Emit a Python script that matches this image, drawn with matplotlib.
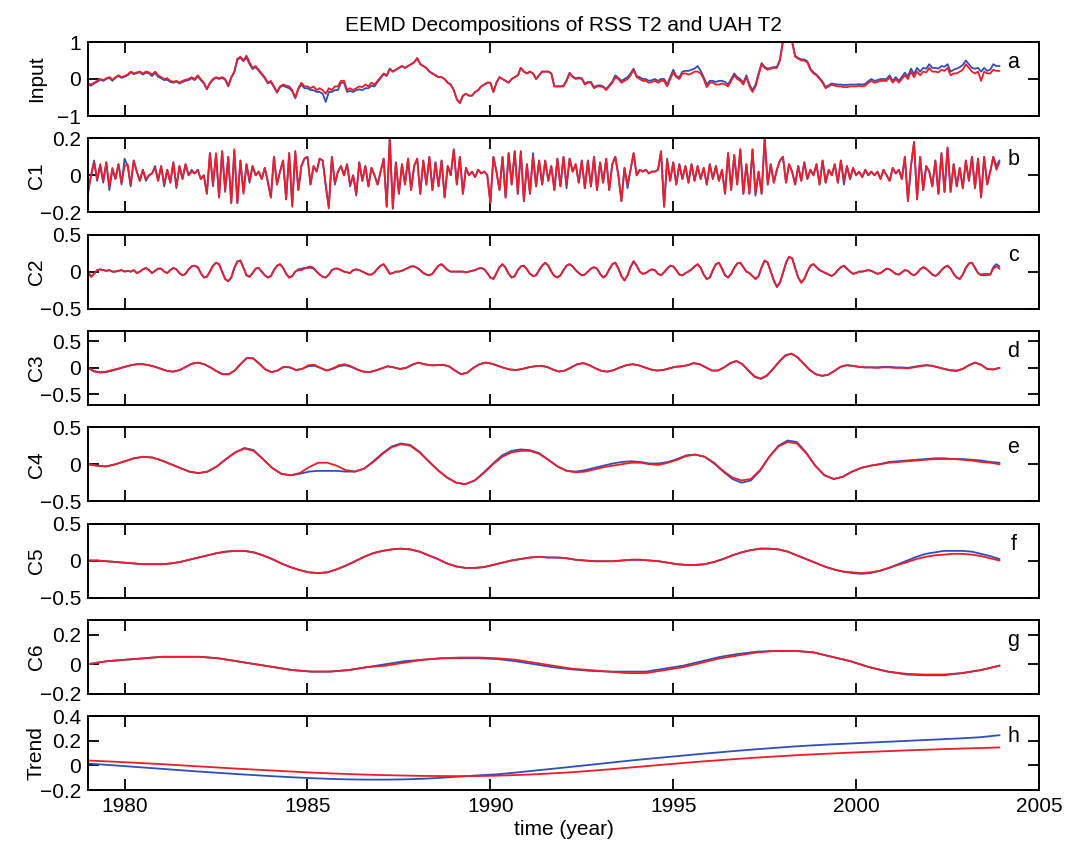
import numpy as np
import matplotlib
matplotlib.use('Agg')
import matplotlib.pyplot as plt

plt.rcParams['font.family'] = ['Liberation Sans', 'DejaVu Sans']

# ---------------- data ----------------
input_rss = [
 -0.12, -0.15, -0.10, -0.05, 0.00, -0.03, 0.02, 0.05, -0.02, 0.05, 0.10, 0.05,
 0.08, 0.12, 0.20, 0.15, 0.18, 0.20, 0.15, 0.20, 0.18, 0.12, 0.20, 0.10,
 0.05, 0.00, 0.02, -0.05, -0.08, -0.05, -0.10, -0.05, -0.02, 0.00, 0.05, 0.00,
 0.10, 0.00, -0.10, -0.27, -0.10, 0.00, 0.05, 0.02, 0.05, 0.00, -0.18, 0.05,
 0.20, 0.55, 0.60, 0.50, 0.63, 0.45, 0.30, 0.35, 0.25, 0.15, 0.05, -0.10,
 -0.05, -0.20, -0.35, -0.20, -0.15, -0.18, -0.20, -0.30, -0.50, -0.25, -0.10, -0.20,
 -0.20, -0.25, -0.20, -0.30, -0.25, -0.30, -0.40, -0.25, -0.30, -0.20, -0.20, -0.05,
 -0.05, -0.30, -0.25, -0.30, -0.25, -0.20, -0.22, -0.15, -0.20, -0.10, -0.15, -0.05,
 0.05, 0.15, 0.10, 0.28, 0.20, 0.25, 0.30, 0.35, 0.30, 0.35, 0.40, 0.45,
 0.57, 0.40, 0.35, 0.30, 0.20, 0.15, 0.10, 0.05, 0.05, 0.00, -0.10, -0.15,
 -0.30, -0.55, -0.65, -0.45, -0.40, -0.45, -0.45, -0.35, -0.30, -0.20, -0.15, -0.10,
 -0.10, -0.35, -0.10, 0.05, 0.00, -0.05, -0.10, 0.00, 0.05, 0.10, 0.30, 0.20,
 0.15, 0.20, 0.15, 0.00, 0.10, 0.20, 0.20, 0.20, 0.15, -0.20, -0.20, -0.20,
 -0.20, -0.05, 0.15, 0.05, 0.00, 0.02, 0.00, -0.15, -0.10, -0.10, -0.25, -0.20,
 -0.20, -0.22, -0.30, -0.20, -0.10, 0.05, 0.00, -0.10, -0.05, 0.00, 0.10, 0.25,
 0.05, 0.00, -0.05, -0.05, -0.10, -0.08, -0.05, -0.10, -0.05, -0.05, -0.20, 0.00,
 0.18, 0.05, 0.00, 0.15, 0.15, 0.12, 0.15, 0.20, 0.20, 0.15, 0.00, -0.22,
 -0.10, -0.10, -0.15, -0.15, -0.12, -0.15, -0.20, -0.05, 0.10, 0.00, -0.05, -0.15,
 0.05, -0.20, -0.35, -0.20, 0.10, 0.40, 0.30, 0.25, 0.28, 0.30, 0.30, 0.50,
 1.00, 1.10, 1.05, 1.00, 0.60, 0.55, 0.50, 0.50, 0.45, 0.25, 0.15, 0.10,
 0.00, -0.10, -0.25, -0.20, -0.15, -0.18, -0.20, -0.20, -0.22, -0.22, -0.20, -0.20,
 -0.20, -0.18, -0.20, -0.18, -0.10, -0.05, -0.10, -0.08, -0.05, -0.05, -0.05, 0.05,
 -0.10, 0.00, -0.10, 0.00, 0.10, 0.00, 0.20, 0.05, 0.20, 0.10, 0.20, 0.18,
 0.30, 0.20, 0.20, 0.18, 0.25, 0.22, 0.30, 0.10, 0.15, 0.15, 0.20, 0.25,
 0.40, 0.30, 0.20, 0.15, 0.20, -0.05, 0.20, 0.15, 0.15, 0.25, 0.22, 0.22,
]
input_uah = [
 -0.15, -0.18, -0.12, -0.08, -0.02, -0.05, 0.00, 0.03, -0.05, 0.03, 0.08, 0.03,
 0.06, 0.10, 0.18, 0.13, 0.16, 0.18, 0.12, 0.17, 0.15, 0.08, 0.16, 0.06,
 0.02, -0.03, -0.02, -0.08, -0.10, -0.07, -0.12, -0.08, -0.05, -0.03, 0.02, -0.03,
 0.07, -0.03, -0.12, -0.28, -0.12, -0.02, 0.03, 0.00, 0.03, -0.02, -0.20, 0.03,
 0.18, 0.52, 0.57, 0.48, 0.58, 0.40, 0.27, 0.32, 0.22, 0.12, 0.02, -0.12,
 -0.08, -0.22, -0.37, -0.22, -0.18, -0.22, -0.25, -0.33, -0.52, -0.28, -0.15, -0.25,
 -0.25, -0.30, -0.30, -0.35, -0.35, -0.40, -0.62, -0.35, -0.35, -0.30, -0.30, -0.10,
 -0.10, -0.35, -0.32, -0.35, -0.30, -0.28, -0.30, -0.25, -0.25, -0.18, -0.20, -0.08,
 0.02, 0.13, 0.08, 0.27, 0.20, 0.25, 0.30, 0.35, 0.30, 0.35, 0.40, 0.45,
 0.55, 0.40, 0.35, 0.30, 0.20, 0.15, 0.10, 0.05, 0.05, 0.00, -0.10, -0.15,
 -0.30, -0.55, -0.65, -0.45, -0.40, -0.45, -0.45, -0.35, -0.30, -0.20, -0.15, -0.10,
 -0.10, -0.35, -0.10, 0.05, 0.00, -0.05, -0.10, 0.00, 0.05, 0.10, 0.30, 0.20,
 0.15, 0.20, 0.15, 0.00, 0.10, 0.20, 0.20, 0.20, 0.15, -0.20, -0.20, -0.20,
 -0.18, -0.03, 0.17, 0.07, 0.02, 0.04, 0.02, -0.12, -0.08, -0.08, -0.22, -0.18,
 -0.17, -0.20, -0.27, -0.17, -0.07, 0.10, 0.03, -0.05, 0.00, 0.05, 0.15, 0.28,
 0.08, 0.05, 0.00, 0.00, -0.05, -0.03, 0.00, -0.05, 0.00, 0.00, -0.15, 0.05,
 0.25, 0.08, 0.05, 0.20, 0.22, 0.22, 0.25, 0.28, 0.35, 0.22, 0.05, -0.15,
 -0.05, -0.05, -0.08, -0.05, -0.05, -0.08, -0.15, 0.00, 0.15, 0.05, 0.00, -0.10,
 0.10, -0.15, -0.30, -0.15, 0.15, 0.43, 0.33, 0.28, 0.30, 0.32, 0.33, 0.52,
 1.05, 1.12, 1.08, 1.02, 0.63, 0.57, 0.53, 0.53, 0.48, 0.28, 0.18, 0.12,
 0.03, -0.07, -0.22, -0.17, -0.12, -0.14, -0.15, -0.15, -0.16, -0.16, -0.15, -0.15,
 -0.15, -0.14, -0.15, -0.13, -0.06, 0.00, -0.05, -0.03, 0.00, 0.00, 0.00, 0.10,
 -0.05, 0.05, -0.05, 0.06, 0.17, 0.07, 0.28, 0.13, 0.30, 0.20, 0.30, 0.28,
 0.40, 0.30, 0.30, 0.28, 0.35, 0.33, 0.40, 0.20, 0.25, 0.28, 0.32, 0.38,
 0.50, 0.40, 0.30, 0.28, 0.30, 0.20, 0.30, 0.22, 0.25, 0.40, 0.35, 0.35,
]
c1_rss = [
 -0.10, 0.00, 0.07, -0.02, 0.06, -0.03, 0.07, -0.06, 0.04, -0.02, 0.06, -0.04,
 0.05, 0.06, -0.05, 0.08, 0.02, -0.03, 0.03, -0.02, 0.00, 0.01, 0.04, -0.03,
 0.05, -0.05, 0.03, -0.04, 0.07, -0.06, 0.05, -0.02, 0.06, 0.00, 0.02, 0.01,
 0.03, -0.02, 0.00, -0.10, 0.12, -0.05, 0.12, -0.12, 0.13, -0.08, 0.10, -0.15,
 0.14, -0.15, 0.08, -0.10, 0.06, -0.03, 0.05, 0.00, 0.02, -0.02, 0.04, -0.03,
 -0.12, 0.10, -0.05, 0.02, 0.08, -0.13, 0.12, -0.17, 0.13, -0.08, 0.05, 0.09,
 0.10, -0.05, 0.05, 0.02, 0.09, 0.08, -0.05, -0.18, 0.10, -0.04, 0.02, 0.05,
 0.00, 0.06, -0.05, 0.00, -0.10, 0.07, -0.03, 0.05, -0.06, 0.04, 0.00, -0.05,
 0.02, 0.09, -0.17, 0.20, -0.18, 0.07, -0.10, 0.06, -0.05, 0.09, -0.08, 0.05,
 0.09, -0.10, 0.08, -0.05, 0.10, -0.08, 0.07, -0.06, 0.08, -0.12, 0.05, 0.00,
 0.14, -0.05, 0.10, -0.10, 0.04, 0.00, 0.02, -0.01, 0.03, 0.01, 0.02, 0.00,
 -0.15, 0.10, 0.02, -0.08, 0.10, -0.12, 0.12, -0.05, 0.13, -0.10, 0.13, -0.14,
 0.06, -0.10, 0.10, -0.06, 0.08, -0.05, 0.08, -0.03, 0.05, -0.08, 0.09, -0.06,
 0.10, -0.05, 0.09, 0.02, 0.06, -0.04, 0.08, -0.07, 0.08, -0.06, 0.10, -0.08,
 0.07, -0.04, 0.09, -0.08, 0.06, 0.10, 0.00, -0.14, 0.04, -0.05, 0.03, 0.12,
 0.00, 0.03, 0.02, 0.03, 0.01, 0.02, 0.02, 0.03, 0.13, -0.17, 0.08, -0.03,
 0.07, -0.05, 0.06, -0.02, 0.05, -0.04, 0.06, -0.03, 0.05, -0.02, 0.04, -0.05,
 0.06, -0.02, 0.05, -0.03, 0.03, -0.10, 0.12, -0.08, 0.11, -0.05, 0.14, -0.10,
 0.06, -0.10, 0.14, -0.10, 0.02, -0.10, 0.20, -0.05, 0.06, -0.04, 0.03, 0.08,
 0.10, -0.04, 0.06, 0.02, -0.05, 0.05, -0.03, 0.07, -0.02, 0.03, 0.00, 0.06,
 -0.05, 0.08, -0.04, 0.03, 0.00, 0.06, -0.04, 0.08, -0.03, 0.05, -0.02, 0.04,
 0.00, 0.02, -0.01, 0.03, 0.00, 0.02, 0.00, 0.02, -0.02, 0.03, 0.00, -0.03,
 0.04, 0.01, 0.03, -0.02, 0.10, -0.14, 0.05, 0.18, -0.13, 0.10, -0.08, 0.05,
 0.02, -0.06, 0.08, -0.10, 0.12, -0.09, 0.15, -0.09, 0.06, -0.06, 0.04, -0.07,
 0.08, -0.03, 0.10, -0.07, 0.09, -0.12, 0.10, -0.05, 0.02, 0.10, 0.03, 0.07,
]
c1_uah = [
 -0.08, 0.00, 0.08, -0.03, 0.05, -0.04, 0.07, -0.08, 0.03, -0.02, 0.06, -0.05,
 0.09, 0.05, -0.06, 0.08, 0.02, -0.03, 0.03, -0.03, 0.00, 0.01, 0.05, -0.03,
 0.05, -0.06, 0.03, -0.04, 0.07, -0.07, 0.05, -0.02, 0.06, 0.00, 0.03, 0.01,
 0.03, -0.02, 0.00, -0.10, 0.12, -0.06, 0.11, -0.12, 0.13, -0.09, 0.10, -0.15,
 0.13, -0.15, 0.08, -0.09, 0.06, -0.04, 0.05, 0.00, 0.02, -0.02, 0.04, -0.04,
 -0.12, 0.10, -0.05, 0.02, 0.08, -0.13, 0.12, -0.16, 0.13, -0.08, 0.05, 0.09,
 0.10, -0.05, 0.05, 0.02, 0.09, 0.08, -0.06, -0.17, 0.10, -0.05, 0.02, 0.05,
 0.00, 0.06, -0.06, 0.00, -0.11, 0.07, -0.03, 0.05, -0.06, 0.04, 0.00, -0.05,
 0.02, 0.09, -0.17, 0.20, -0.18, 0.07, -0.10, 0.06, -0.05, 0.09, -0.08, 0.05,
 0.09, -0.10, 0.08, -0.05, 0.10, -0.08, 0.07, -0.06, 0.08, -0.12, 0.05, 0.00,
 0.14, -0.05, 0.10, -0.10, 0.04, 0.00, 0.02, -0.01, 0.03, 0.01, 0.02, 0.00,
 -0.15, 0.10, 0.02, -0.08, 0.10, -0.12, 0.12, -0.05, 0.13, -0.10, 0.13, -0.14,
 0.06, -0.10, 0.12, -0.06, 0.08, -0.05, 0.08, -0.03, 0.05, -0.08, 0.09, -0.06,
 0.10, -0.07, 0.09, 0.02, 0.06, -0.04, 0.08, -0.07, 0.08, -0.06, 0.10, -0.08,
 0.07, -0.04, 0.09, -0.08, 0.06, 0.10, 0.00, -0.14, 0.04, -0.07, 0.03, 0.12,
 0.00, 0.03, 0.02, 0.03, 0.01, 0.02, 0.02, 0.03, 0.13, -0.17, 0.09, -0.03,
 0.07, -0.05, 0.06, -0.02, 0.05, -0.04, 0.06, -0.03, 0.05, -0.02, 0.04, -0.05,
 0.06, -0.02, 0.05, -0.03, 0.03, -0.10, 0.12, -0.08, 0.11, -0.05, 0.14, -0.10,
 0.06, -0.10, 0.14, -0.11, 0.02, -0.10, 0.20, -0.05, 0.06, -0.04, 0.03, 0.08,
 0.10, -0.04, 0.06, 0.02, -0.05, 0.05, -0.03, 0.07, -0.02, 0.03, 0.00, 0.06,
 -0.05, 0.08, -0.04, 0.03, 0.00, 0.06, -0.04, 0.08, -0.05, 0.05, -0.02, 0.04,
 0.00, 0.02, -0.01, 0.03, 0.00, 0.02, 0.00, 0.02, -0.02, 0.03, 0.00, -0.03,
 0.04, 0.01, 0.03, -0.02, 0.10, -0.14, 0.05, 0.18, -0.13, 0.10, -0.08, 0.05,
 0.02, -0.06, 0.08, -0.10, 0.12, -0.09, 0.15, -0.09, 0.06, -0.06, 0.04, -0.07,
 0.08, -0.03, 0.10, -0.07, 0.09, -0.12, 0.10, -0.05, 0.02, 0.10, 0.05, 0.08,
]
c2_rss = [
 0.00, -0.07, -0.03, 0.02, 0.03, 0.02, 0.01, 0.02, 0.00, 0.00, 0.01, 0.02,
 0.00, 0.01, 0.00, 0.02, -0.02, 0.00, 0.03, 0.05, 0.02, -0.02, 0.01, 0.04,
 0.04, 0.00, -0.02, 0.02, 0.05, 0.03, -0.02, -0.05, -0.03, 0.03, 0.07, 0.08,
 0.06, -0.02, -0.08, -0.07, 0.00, 0.08, 0.12, 0.10, 0.00, -0.10, -0.13, -0.08,
 0.05, 0.13, 0.15, 0.05, -0.05, -0.07, -0.02, 0.04, 0.05, 0.00, -0.05, -0.08,
 -0.06, 0.02, 0.08, 0.10, 0.05, -0.03, -0.08, -0.06, 0.00, 0.02, 0.02, 0.04,
 0.06, 0.07, 0.05, 0.00, -0.04, -0.07, -0.08, -0.04, 0.02, 0.04, 0.04, 0.02,
 0.00, -0.01, -0.02, 0.02, 0.03, 0.02, 0.00, -0.02, -0.04, -0.04, -0.01, 0.04,
 0.08, 0.10, 0.04, -0.03, -0.02, 0.00, 0.00, 0.01, 0.03, 0.05, 0.07, 0.07,
 0.05, 0.02, -0.02, -0.04, -0.05, -0.03, 0.03, 0.08, 0.10, 0.06, 0.02, 0.00,
 0.00, 0.00, 0.00, 0.00, -0.01, 0.00, 0.01, 0.02, 0.04, 0.05, 0.03, -0.02,
 -0.08, -0.10, -0.02, 0.06, 0.10, 0.05, -0.03, -0.08, -0.06, 0.02, 0.07, 0.08,
 0.03, -0.03, -0.06, -0.05, 0.02, 0.08, 0.12, 0.08, 0.00, -0.06, -0.08, -0.05,
 0.02, 0.08, 0.10, 0.07, 0.02, -0.02, -0.05, -0.04, 0.00, 0.04, 0.06, 0.04,
 -0.03, -0.08, -0.05, 0.03, 0.10, 0.12, 0.04, -0.06, -0.12, -0.05, 0.06, 0.14,
 0.08, 0.00, -0.03, -0.02, 0.01, 0.03, 0.02, -0.03, -0.05, -0.01, 0.04, 0.08,
 0.07, 0.02, -0.04, -0.05, -0.02, 0.00, 0.03, 0.07, 0.10, 0.05, -0.04, -0.10,
 -0.08, 0.02, 0.10, 0.12, 0.04, -0.05, -0.08, -0.03, 0.05, 0.11, 0.12, 0.06,
 0.00, -0.02, -0.06, -0.10, -0.06, 0.06, 0.15, 0.12, 0.00, -0.12, -0.20, -0.15,
 -0.02, 0.12, 0.20, 0.18, 0.05, -0.08, -0.15, -0.10, 0.00, 0.08, 0.10, 0.06,
 0.02, 0.00, -0.02, -0.04, -0.06, -0.03, 0.02, 0.06, 0.08, 0.04, 0.00, -0.03,
 -0.02, 0.00, 0.00, 0.01, 0.02, 0.01, -0.01, -0.03, -0.02, 0.01, 0.04, 0.03,
 0.00, -0.03, -0.04, -0.01, 0.02, 0.01, -0.03, -0.05, -0.02, 0.03, 0.06, 0.04,
 0.00, -0.04, -0.06, -0.03, 0.02, 0.06, 0.08, 0.04, -0.03, -0.08, -0.10, -0.04,
 0.05, 0.11, 0.12, 0.05, -0.02, -0.04, -0.03, -0.03, -0.04, 0.04, 0.07, 0.04,
]
c2_uah = [
 0.00, -0.07, -0.03, 0.02, 0.03, 0.02, 0.01, 0.02, 0.00, 0.00, 0.01, 0.02,
 0.00, 0.01, 0.00, 0.02, -0.02, 0.00, 0.03, 0.05, 0.02, -0.02, 0.01, 0.04,
 0.04, 0.00, -0.02, 0.02, 0.05, 0.03, -0.02, -0.05, -0.03, 0.03, 0.07, 0.08,
 0.06, -0.02, -0.08, -0.07, 0.00, 0.08, 0.12, 0.10, 0.00, -0.10, -0.13, -0.08,
 0.05, 0.14, 0.15, 0.05, -0.05, -0.07, -0.02, 0.04, 0.05, 0.00, -0.05, -0.08,
 -0.06, 0.02, 0.08, 0.10, 0.05, -0.03, -0.08, -0.06, 0.00, 0.03, 0.04, 0.05,
 0.05, 0.05, 0.04, 0.00, -0.04, -0.07, -0.08, -0.04, 0.02, 0.04, 0.04, 0.02,
 0.00, -0.01, -0.02, 0.02, 0.03, 0.02, 0.00, -0.02, -0.04, -0.04, -0.01, 0.04,
 0.08, 0.10, 0.04, -0.03, -0.02, 0.00, 0.00, 0.01, 0.03, 0.05, 0.07, 0.07,
 0.05, 0.02, -0.02, -0.04, -0.05, -0.03, 0.03, 0.08, 0.10, 0.06, 0.02, 0.00,
 0.00, 0.00, 0.00, 0.00, -0.01, 0.00, 0.01, 0.02, 0.04, 0.05, 0.03, -0.02,
 -0.08, -0.10, -0.02, 0.06, 0.10, 0.05, -0.03, -0.08, -0.06, 0.02, 0.07, 0.08,
 0.03, -0.03, -0.06, -0.05, 0.02, 0.08, 0.12, 0.08, 0.00, -0.06, -0.08, -0.05,
 0.02, 0.08, 0.10, 0.07, 0.02, -0.02, -0.05, -0.04, 0.00, 0.04, 0.06, 0.04,
 -0.03, -0.08, -0.05, 0.03, 0.10, 0.12, 0.04, -0.06, -0.12, -0.05, 0.06, 0.14,
 0.08, 0.00, -0.03, -0.02, 0.01, 0.03, 0.02, -0.03, -0.05, -0.01, 0.04, 0.08,
 0.07, 0.02, -0.04, -0.05, -0.02, 0.00, 0.03, 0.07, 0.10, 0.05, -0.04, -0.10,
 -0.08, 0.02, 0.10, 0.12, 0.04, -0.05, -0.08, -0.03, 0.05, 0.11, 0.12, 0.06,
 0.00, -0.02, -0.06, -0.10, -0.06, 0.06, 0.15, 0.12, 0.00, -0.12, -0.21, -0.15,
 -0.02, 0.12, 0.20, 0.18, 0.05, -0.08, -0.15, -0.10, 0.00, 0.08, 0.10, 0.06,
 0.02, 0.00, -0.02, -0.04, -0.06, -0.03, 0.02, 0.06, 0.08, 0.04, 0.00, -0.03,
 -0.02, 0.00, 0.00, 0.01, 0.02, 0.01, -0.01, -0.03, -0.02, 0.01, 0.04, 0.03,
 0.00, -0.03, -0.04, -0.01, 0.02, 0.01, -0.03, -0.05, -0.02, 0.03, 0.06, 0.04,
 0.00, -0.04, -0.06, -0.03, 0.02, 0.06, 0.08, 0.04, -0.03, -0.08, -0.10, -0.04,
 0.05, 0.11, 0.12, 0.05, -0.02, -0.05, -0.05, -0.05, -0.04, 0.06, 0.10, 0.07,
]
# C3: two-monthly samples
c3_rss = [
 0.00, -0.06, -0.08, -0.07, -0.04, -0.01,
 0.02, 0.05, 0.07, 0.07, 0.05, 0.02,
 -0.02, -0.06, -0.07, -0.04, 0.02, 0.08,
 0.10, 0.07, 0.01, -0.06, -0.12, -0.12,
 -0.05, 0.08, 0.19, 0.18, 0.08, -0.03,
 -0.08, -0.05, 0.02, 0.01, -0.04, -0.02,
 0.05, 0.06, 0.00, -0.05, -0.01, 0.05,
 0.07, 0.03, -0.03, -0.07, -0.08, -0.05,
 -0.01, 0.03, 0.01, -0.02, 0.00, 0.06,
 0.10, 0.07, 0.05, 0.05, 0.06, 0.03,
 -0.05, -0.12, -0.09, 0.00, 0.07, 0.10,
 0.08, 0.04, 0.00, -0.03, -0.04, -0.02,
 0.01, 0.03, 0.04, 0.02, -0.03, -0.07,
 -0.05, 0.01, 0.07, 0.09, 0.05, -0.01,
 -0.06, -0.07, -0.04, 0.01, 0.05, 0.07,
 0.05, 0.01, -0.03, -0.05, -0.04, -0.01,
 0.02, 0.03, 0.05, 0.09, 0.07, 0.01,
 -0.05, -0.05, 0.01, 0.09, 0.13, 0.07,
 -0.05, -0.16, -0.20, -0.14, -0.02, 0.12,
 0.23, 0.27, 0.20, 0.08, -0.04, -0.12,
 -0.15, -0.13, -0.06, 0.02, 0.05, 0.04,
 0.02, 0.01, 0.01, 0.00, 0.01, 0.01,
 0.00, 0.00, -0.01, 0.01, 0.03, 0.05,
 0.04, 0.01, -0.02, -0.04, -0.05, -0.02,
 0.05, 0.10, 0.06, -0.02, -0.03, 0.00,
]
c3_uah = [
 0.00, -0.07, -0.09, -0.08, -0.05, -0.02,
 0.02, 0.05, 0.07, 0.07, 0.05, 0.02,
 -0.02, -0.06, -0.07, -0.04, 0.02, 0.08,
 0.10, 0.07, 0.01, -0.06, -0.12, -0.12,
 -0.05, 0.08, 0.19, 0.18, 0.08, -0.03,
 -0.08, -0.05, 0.02, 0.01, -0.04, -0.02,
 0.03, 0.04, 0.00, -0.05, -0.02, 0.03,
 0.05, 0.02, -0.03, -0.07, -0.08, -0.05,
 -0.01, 0.03, 0.01, -0.02, 0.00, 0.06,
 0.10, 0.07, 0.05, 0.05, 0.06, 0.03,
 -0.05, -0.12, -0.09, 0.00, 0.07, 0.10,
 0.08, 0.04, 0.00, -0.03, -0.04, -0.02,
 0.01, 0.03, 0.04, 0.02, -0.03, -0.07,
 -0.05, 0.01, 0.07, 0.09, 0.05, -0.01,
 -0.06, -0.07, -0.04, 0.01, 0.05, 0.07,
 0.05, 0.01, -0.03, -0.05, -0.04, -0.01,
 0.02, 0.03, 0.05, 0.09, 0.07, 0.01,
 -0.05, -0.05, 0.01, 0.09, 0.13, 0.07,
 -0.06, -0.17, -0.21, -0.15, -0.02, 0.12,
 0.24, 0.27, 0.20, 0.08, -0.04, -0.12,
 -0.15, -0.13, -0.06, 0.02, 0.05, 0.04,
 0.02, 0.01, 0.01, 0.01, 0.02, 0.02,
 0.01, 0.01, 0.00, 0.02, 0.04, 0.05,
 0.04, 0.01, -0.02, -0.05, -0.06, -0.02,
 0.05, 0.10, 0.06, -0.02, -0.03, 0.00,
]
# C4: quarterly samples
c4_rss = [
 0.00, -0.02, -0.03, 0.00,  0.04, 0.08, 0.10, 0.09,  0.05, 0.00, -0.05, -0.10,
 -0.12, -0.10, -0.03, 0.07,  0.16, 0.21, 0.18, 0.07,  -0.05, -0.13, -0.15, -0.12,
 -0.04, 0.02, 0.02, -0.02,  -0.08, -0.10, -0.06, 0.03,  0.14, 0.23, 0.27, 0.25,
 0.16, 0.04, -0.08, -0.18,  -0.25, -0.27, -0.22, -0.12,  0.00, 0.10, 0.16, 0.18,
 0.18, 0.14, 0.06, -0.03,  -0.09, -0.11, -0.10, -0.07,  -0.04, -0.02, 0.00, 0.02,
 0.02, 0.00, -0.01, 0.02,  0.06, 0.11, 0.13, 0.10,  0.02, -0.09, -0.18, -0.22,
 -0.20, -0.08, 0.10, 0.24,  0.30, 0.28, 0.15, -0.02,  -0.15, -0.20, -0.17, -0.10,
 -0.05, -0.02, 0.00, 0.02,  0.03, 0.04, 0.05, 0.06,  0.07, 0.07, 0.07, 0.06,
 0.05, 0.03, 0.02, 0.00,
]
c4_uah = [
 0.00, -0.02, -0.03, 0.00,  0.04, 0.08, 0.10, 0.09,  0.05, 0.00, -0.05, -0.10,
 -0.12, -0.10, -0.03, 0.07,  0.16, 0.22, 0.19, 0.07,  -0.05, -0.13, -0.15, -0.13,
 -0.10, -0.09, -0.09, -0.09,  -0.10, -0.10, -0.06, 0.04,  0.15, 0.24, 0.28, 0.26,
 0.17, 0.04, -0.08, -0.18,  -0.25, -0.27, -0.22, -0.11,  0.01, 0.12, 0.18, 0.20,
 0.19, 0.15, 0.06, -0.03,  -0.09, -0.10, -0.08, -0.05,  -0.02, 0.01, 0.03, 0.04,
 0.03, 0.01, 0.01, 0.03,  0.07, 0.12, 0.13, 0.10,  0.01, -0.10, -0.20, -0.25,
 -0.22, -0.09, 0.10, 0.25,  0.32, 0.30, 0.16, -0.02,  -0.15, -0.20, -0.17, -0.10,
 -0.05, -0.02, 0.00, 0.03,  0.04, 0.05, 0.06, 0.07,  0.08, 0.08, 0.07, 0.07,
 0.06, 0.05, 0.03, 0.02,
]
# C5: quarterly samples
c5_rss = [
 0.00, 0.00, -0.01, -0.02,  -0.03, -0.04, -0.05, -0.05,  -0.05, -0.04, -0.02, 0.01,
 0.04, 0.07, 0.10, 0.12,  0.13, 0.13, 0.11, 0.07,  0.02, -0.04, -0.09, -0.13,
 -0.16, -0.17, -0.16, -0.12,  -0.07, -0.01, 0.05, 0.10,  0.13, 0.15, 0.16, 0.15,
 0.12, 0.07, 0.02, -0.04,  -0.08, -0.10, -0.10, -0.09,  -0.06, -0.03, 0.00, 0.02,
 0.04, 0.05, 0.04, 0.04,  0.03, 0.01, 0.00, -0.01,  -0.01, -0.01, 0.00, 0.01,
 0.01, 0.00, -0.01, -0.03,  -0.05, -0.06, -0.06, -0.05,  -0.02, 0.02, 0.07, 0.11,
 0.14, 0.16, 0.16, 0.15,  0.12, 0.07, 0.02, -0.03,  -0.08, -0.12, -0.15, -0.16,
 -0.17, -0.16, -0.14, -0.10,  -0.06, -0.02, 0.02, 0.05,  0.07, 0.08, 0.09, 0.09,
 0.08, 0.06, 0.03, 0.00,
]
c5_uah = [
 0.00, 0.00, -0.01, -0.02,  -0.03, -0.04, -0.05, -0.05,  -0.05, -0.04, -0.02, 0.01,
 0.04, 0.07, 0.10, 0.12,  0.13, 0.13, 0.11, 0.07,  0.02, -0.04, -0.09, -0.13,
 -0.16, -0.17, -0.16, -0.12,  -0.07, -0.01, 0.05, 0.10,  0.13, 0.15, 0.16, 0.15,
 0.12, 0.07, 0.02, -0.04,  -0.08, -0.10, -0.10, -0.09,  -0.06, -0.03, 0.00, 0.02,
 0.04, 0.05, 0.04, 0.04,  0.03, 0.01, 0.00, -0.01,  -0.01, -0.01, 0.00, 0.01,
 0.01, 0.00, -0.01, -0.03,  -0.05, -0.06, -0.06, -0.05,  -0.02, 0.02, 0.07, 0.11,
 0.14, 0.16, 0.16, 0.15,  0.12, 0.07, 0.02, -0.03,  -0.08, -0.12, -0.15, -0.17,
 -0.18, -0.17, -0.14, -0.10,  -0.05, 0.00, 0.05, 0.09,  0.11, 0.13, 0.13, 0.13,
 0.12, 0.09, 0.06, 0.02,
]
# C6: half-yearly samples
c6_rss = [
 0.00, 0.02, 0.03, 0.04, 0.05, 0.05, 0.05, 0.04, 0.02, 0.00,
 -0.02, -0.04, -0.05, -0.05, -0.04, -0.02, -0.01, 0.01, 0.03, 0.04,
 0.045, 0.045, 0.04, 0.03, 0.01, -0.01, -0.03, -0.04, -0.05, -0.06,
 -0.06, -0.04, -0.02, 0.01, 0.04, 0.06, 0.08, 0.09, 0.09, 0.08,
 0.05, 0.02, -0.02, -0.05, -0.065, -0.07, -0.07, -0.06, -0.04, -0.01,
]
c6_uah = [
 0.00, 0.02, 0.03, 0.04, 0.05, 0.05, 0.05, 0.04, 0.02, 0.00,
 -0.02, -0.04, -0.05, -0.05, -0.04, -0.02, 0.00, 0.02, 0.03, 0.04,
 0.04, 0.04, 0.035, 0.02, 0.00, -0.02, -0.035, -0.045, -0.05, -0.05,
 -0.05, -0.03, -0.01, 0.02, 0.05, 0.07, 0.085, 0.09, 0.09, 0.08,
 0.05, 0.02, -0.02, -0.05, -0.07, -0.075, -0.075, -0.06, -0.04, -0.01,
]
# Trend: half-yearly samples
trend_rss = [
 0.040, 0.033, 0.026, 0.018, 0.010, 0.001, -0.008, -0.017, -0.026, -0.034,
 -0.042, -0.050, -0.058, -0.064, -0.070, -0.075, -0.079, -0.082, -0.085, -0.086,
 -0.087, -0.086, -0.083, -0.078, -0.072, -0.064, -0.055, -0.044, -0.032, -0.019,
 -0.006, 0.007, 0.020, 0.032, 0.043, 0.054, 0.064, 0.073, 0.082, 0.090,
 0.097, 0.104, 0.110, 0.116, 0.122, 0.127, 0.132, 0.137, 0.141, 0.146,
]
trend_uah = [
 0.015, 0.005, -0.006, -0.017, -0.028, -0.039, -0.050, -0.060, -0.070, -0.079,
 -0.088, -0.096, -0.103, -0.109, -0.113, -0.115, -0.115, -0.113, -0.108, -0.100,
 -0.090, -0.080, -0.072, -0.058, -0.042, -0.027, -0.011, 0.005, 0.021, 0.037,
 0.052, 0.066, 0.080, 0.094, 0.107, 0.120, 0.132, 0.143, 0.154, 0.163,
 0.171, 0.178, 0.185, 0.192, 0.199, 0.206, 0.213, 0.220, 0.229, 0.245,
]

panel_names = ['Input', 'C1', 'C2', 'C3', 'C4', 'C5', 'C6', 'Trend']
panel_letters = ['a', 'b', 'c', 'd', 'e', 'f', 'g', 'h']
series_rss = [input_rss, c1_rss, c2_rss, c3_rss, c4_rss, c5_rss, c6_rss, trend_rss]
series_uah = [input_uah, c1_uah, c2_uah, c3_uah, c4_uah, c5_uah, c6_uah, trend_uah]
y_limits = [(-1, 1), (-0.2, 0.2), (-0.5, 0.5), (-0.7, 0.7), (-0.5, 0.5),
            (-0.5, 0.5), (-0.2, 0.3), (-0.2, 0.4)]
y_ticks = [[-1, 0, 1], [-0.2, 0, 0.2], [-0.5, 0, 0.5], [-0.5, 0, 0.5],
           [-0.5, 0, 0.5], [-0.5, 0, 0.5], [-0.2, 0, 0.2], [-0.2, 0, 0.2, 0.4]]
x_ticks = [1980, 1985, 1990, 1995, 2000, 2005]
t_start, t_end = 1979.0, 2003 + 11 / 12

# ---------------- figure ----------------
W_PX, H_PX = 1066, 850
fig = plt.figure(figsize=(W_PX / 100, H_PX / 100), dpi=100)
left_px, right_px = 88, 1039
top0_px, h_px, pitch_px = 42, 74, 96.3
blue = '#2f4fbd'
red = '#f01c28'
fs = 15


def fmt(v):
    s = ('%g' % v)
    return s.replace('-', '\u2212')


for i in range(8):
    top = top0_px + i * pitch_px
    ax = fig.add_axes([left_px / W_PX, 1 - (top + h_px) / H_PX,
                       (right_px - left_px) / W_PX, h_px / H_PX])
    rs = np.asarray(series_rss[i], dtype=float)
    us = np.asarray(series_uah[i], dtype=float)
    t = np.linspace(t_start, t_end, len(rs))
    ax.plot(t, us, color=blue, lw=1.3, solid_joinstyle='round')
    ax.plot(t, rs, color=red, lw=1.3, solid_joinstyle='round')
    ax.set_xlim(1979, 2005)
    ax.set_ylim(*y_limits[i])
    ax.set_xticks(x_ticks)
    ax.set_yticks(y_ticks[i])
    ax.set_yticklabels([fmt(v) for v in y_ticks[i]])
    ax.tick_params(direction='in', top=True, right=True, length=8, width=1.3,
                   labelsize=fs, pad=5, colors='black')
    for sp in ax.spines.values():
        sp.set_linewidth(1.4)
    if i < 7:
        ax.set_xticklabels([])
    else:
        ax.set_xticklabels([str(v) for v in x_ticks])
        ax.set_xlabel('time (year)', fontsize=fs, labelpad=3)
    ax.set_ylabel(panel_names[i], fontsize=fs)
    ax.yaxis.set_label_coords((46 - left_px) / (right_px - left_px), 0.5)
    ax.text(0.973, 0.72, panel_letters[i], transform=ax.transAxes,
            fontsize=fs + 0.5, ha='center', va='center')
    if i == 0:
        ax.set_title('EEMD Decompositions of RSS T2 and UAH T2',
                     fontsize=fs, pad=8)

fig.savefig('out.png', dpi=100)
